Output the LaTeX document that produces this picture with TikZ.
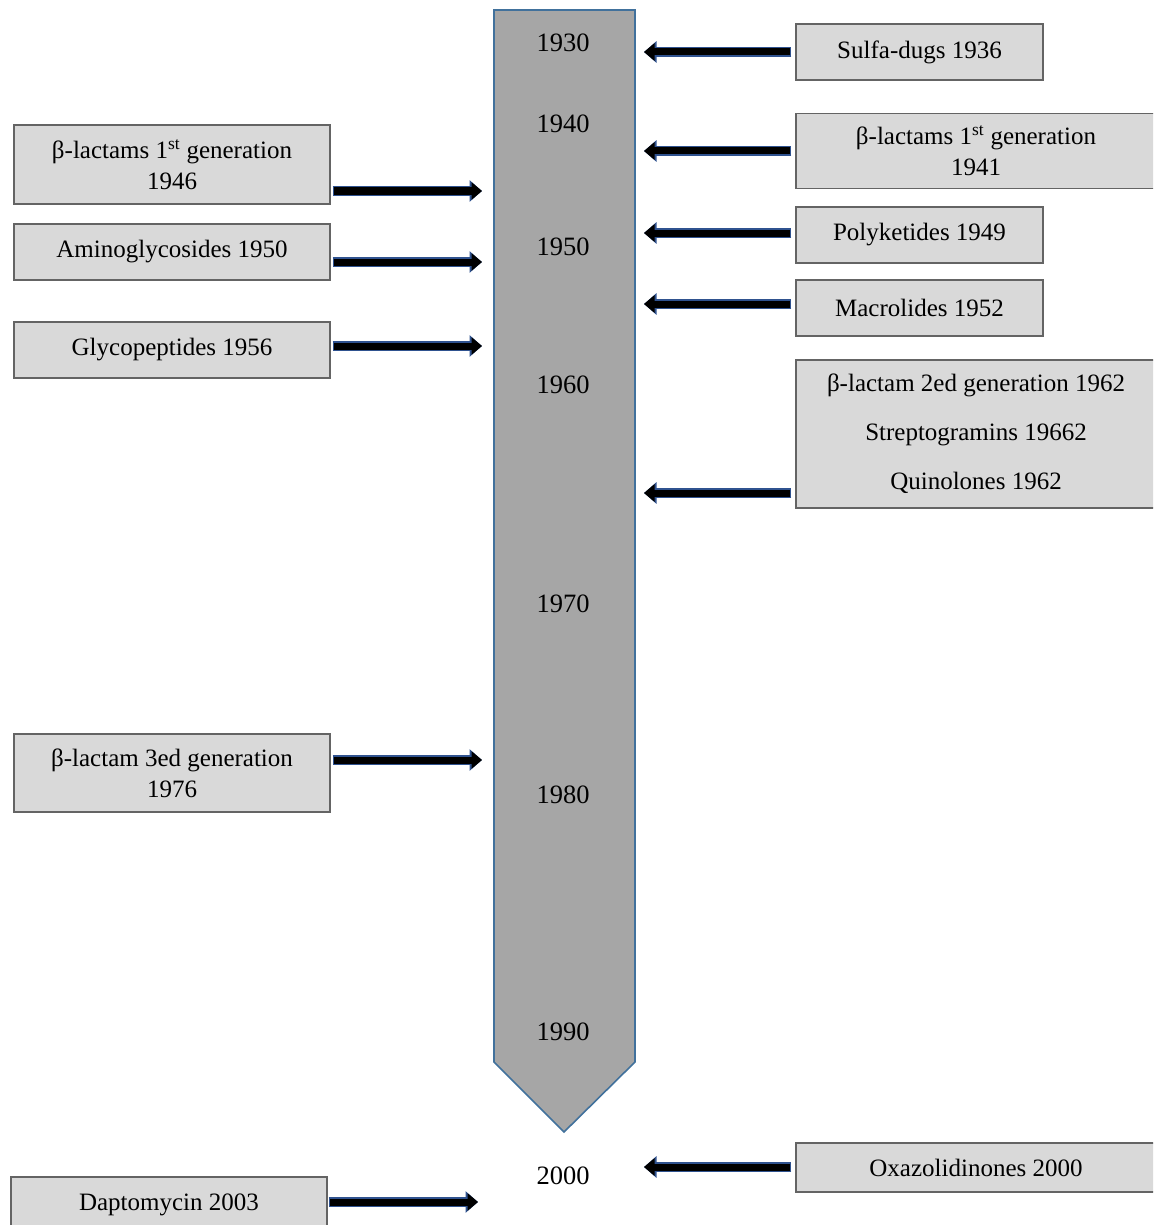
\documentclass[tikz,border=0pt]{standalone}
\usepackage{fontspec}
\setmainfont{Liberation Serif}
\usetikzlibrary{arrows.meta}
\definecolor{barfill}{RGB}{166,166,166}
\definecolor{barline}{RGB}{65,113,156}
\definecolor{boxfill}{RGB}{217,217,217}
\definecolor{boxline}{RGB}{100,100,100}
\definecolor{tipline}{RGB}{47,82,143}
\tikzset{
  evbox/.style={draw=boxline, line width=1.3pt, fill=boxfill, inner sep=0pt,
    align=center, font=\fontsize{25}{31}\selectfont},
  yearlabel/.style={font=\fontsize{26.5}{30}\selectfont, inner sep=0pt},
  blockarrow/.style={draw=black, line width=7pt,
    -{Triangle[length=10.5pt,width=17pt]},
    preaction={draw=tipline, line width=9.6pt,
      -{Triangle[length=12.5pt,width=21pt]}, shorten <=-1.3pt}}
}
\begin{document}
\begin{tikzpicture}[x=1pt,y=-1pt]
\useasboundingbox (0,0) rectangle (1153,1225);
\clip (0,0) rectangle (1153,1225);

% timeline bar
\draw[fill=barfill, draw=barline, line width=1.6pt]
  (494,10) -- (635,10) -- (635,1062) -- (564,1132) -- (494,1062) -- cycle;

% decade labels
\node[yearlabel] (y1930) at (563,43) {1930};
\node[yearlabel] (y1940) at (563,124) {1940};
\node[yearlabel] (y1950) at (563,247) {1950};
\node[yearlabel] (y1960) at (563,385) {1960};
\node[yearlabel] (y1970) at (563,604) {1970};
\node[yearlabel] (y1980) at (563,795) {1980};
\node[yearlabel] (y1990) at (563,1032) {1990};
\node[yearlabel] (y2000) at (563,1176) {2000};

% right-hand boxes
\node[evbox, minimum width=247pt, minimum height=56pt] (sulfa) at (919.5,52) {Sulfa-dugs 1936};
\node[evbox, minimum width=360pt, minimum height=75pt] (bl41) at (976,151) {β-lactams 1\textsuperscript{st} generation\\1941};
\node[evbox, minimum width=247pt, minimum height=56pt] (poly) at (919.5,235) {Polyketides 1949};
\node[evbox, minimum width=247pt, minimum height=56pt] (macro) at (919.5,308) {Macrolides 1952};
\node[evbox, minimum width=360pt, minimum height=148pt,
  font=\fontsize{25}{49}\selectfont] (bl62) at (976,434)
  {β-lactam 2ed generation 1962\\Streptogramins 19662\\Quinolones 1962};
\node[evbox, minimum width=360pt, minimum height=49pt] (oxa) at (976,1167.5) {Oxazolidinones 2000};

% left-hand boxes
\node[evbox, minimum width=316pt, minimum height=79pt] (bl46) at (172,164.5) {β-lactams 1\textsuperscript{st} generation\\1946};
\node[evbox, minimum width=316pt, minimum height=56pt] (amino) at (172,252) {Aminoglycosides 1950};
\node[evbox, minimum width=316pt, minimum height=56pt] (glyco) at (172,350) {Glycopeptides 1956};
\node[evbox, minimum width=316pt, minimum height=78pt] (bl76) at (172,773) {β-lactam 3ed generation\\1976};
\node[evbox, minimum width=316pt, minimum height=56pt] (dapto) at (169,1205) {Daptomycin 2003};

% arrow end points
\coordinate (sulfaS) at (790,52);  \coordinate (sulfaE) at (644,52);
\coordinate (bl41S) at (790,151);  \coordinate (bl41E) at (644,151);
\coordinate (polyS) at (790,233);  \coordinate (polyE) at (644,233);
\coordinate (macroS) at (790,304); \coordinate (macroE) at (644,304);
\coordinate (bl62S) at (790,493);  \coordinate (bl62E) at (644,493);
\coordinate (oxaS) at (790,1167);  \coordinate (oxaE) at (644,1167);
\coordinate (bl46S) at (334,191);  \coordinate (bl46E) at (482,191);
\coordinate (aminoS) at (334,262); \coordinate (aminoE) at (482,262);
\coordinate (glycoS) at (334,346); \coordinate (glycoE) at (482,346);
\coordinate (bl76S) at (334,760);  \coordinate (bl76E) at (482,760);
\coordinate (daptoS) at (330,1202); \coordinate (daptoE) at (478,1202);

% arrows
\foreach \a in {sulfa,bl41,poly,macro,bl62,oxa,bl46,amino,glyco,bl76,dapto}
  \draw[blockarrow] (\a S) -- (\a E);
\end{tikzpicture}
\end{document}
